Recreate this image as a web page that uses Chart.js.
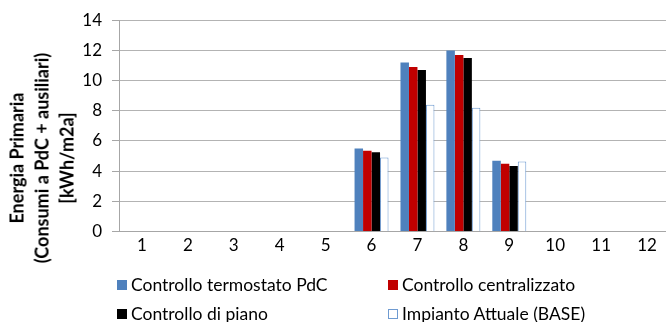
<!DOCTYPE html>
<html>
<head>
<meta charset="utf-8">
<script src="https://cdn.jsdelivr.net/npm/chart.js@4"></script>
<style>
  html, body { margin: 0; padding: 0; background: #fff; overflow: hidden; }
  #wrap { position: relative; width: 666px; height: 322px; overflow: hidden; }
  #box { position: absolute; left: 0; top: 0; width: 672px; height: 322px; }
  #legend { position: absolute; left: 117px; top: 274px; width: 560px; font-family: Lato, sans-serif; font-size: 17.5px; color: #000; }
  .item { position: absolute; white-space: nowrap; display: flex; align-items: center; }
  .swatch { width: 10px; height: 10px; margin-right: 4px; box-sizing: border-box; }
  #ytitle { position: absolute; left: 42px; top: 158px; width: 300px; transform: translate(-50%, -50%) rotate(-90deg);
            text-align: center; font-family: Lato, sans-serif; font-weight: bold; font-size: 18px; line-height: 25px; color: #000; }
</style>
</head>
<body>
<div id="wrap">
  <div id="box"><canvas id="myChart"></canvas></div>
  <div id="ytitle"></div>
  <div id="legend"></div>
</div>
<script>
// categories on the x axis
const categories = ['1', '2', '3', '4', '5', '6', '7', '8', '9', '10', '11', '12'];

// series values (kWh/m2a), only 6..9 have data
const termostatoPdC = [null, null, null, null, null, 5.5, 11.2, 12.0, 4.7, null, null, null];
const centralizzato = [null, null, null, null, null, 5.35, 10.9, 11.7, 4.5, null, null, null];
const diPiano = [null, null, null, null, null, 5.25, 10.7, 11.5, 4.35, null, null, null];
const impiantoBase = [null, null, null, null, null, 4.9, 8.4, 8.2, 4.65, null, null, null];

const seriesNames = ['Controllo termostato PdC', 'Controllo centralizzato', 'Controllo di piano', 'Impianto Attuale (BASE)'];
const yTicks = [0, 2, 4, 6, 8, 10, 12, 14];
const yTitle = ['Energia Primaria', '(Consumi a PdC + ausiliari)', '[kWh/m2a]'];

const fills = ['#4F81BD', '#C00000', '#000000', '#FFFFFF'];
const borders = ['#4F81BD', '#C00000', '#000000', '#6F9BD1'];
const seriesData = [termostatoPdC, centralizzato, diPiano, impiantoBase];

const datasets = seriesData.map((d, i) => ({
  label: seriesNames[i],
  data: d,
  backgroundColor: fills[i],
  borderColor: borders[i],
  borderWidth: i === 3 ? 1 : 0,
  categoryPercentage: 0.74,
  barPercentage: 1.0
}));

const canvas = document.getElementById('myChart');
canvas.width = 672;
canvas.height = 322;

new Chart(canvas.getContext('2d'), {
  type: 'bar',
  data: { labels: categories, datasets: datasets },
  options: {
    responsive: false,
    animation: false,
    maintainAspectRatio: false,
    layout: { padding: { top: 12, right: 2, bottom: 62, left: 0 } },
    plugins: { legend: { display: false }, tooltip: { enabled: false } },
    scales: {
      x: {
        grid: { display: false, drawTicks: false },
        border: { color: '#A6A6A6' },
        ticks: { color: '#000', font: { family: 'Lato', size: 17 }, padding: 4, maxRotation: 0 }
      },
      y: {
        min: 0,
        max: 14,
        afterBuildTicks: (s) => { s.ticks = yTicks.map((v) => ({ value: v })); },
        afterFit: (s) => { s.width = 119; },
        grid: { color: '#B3B3B3', tickLength: 7, tickColor: '#A6A6A6' },
        border: { color: '#A6A6A6' },
        ticks: { color: '#000', font: { family: 'Lato', size: 17 }, padding: 10 },
        title: { display: false }
      }
    }
  }
});

// axis title, centred on the whole chart height like the original
document.getElementById('ytitle').innerHTML = yTitle.join('<br>');

// legend in two columns
const legend = document.getElementById('legend');
const pos = [[0, 0], [271, 0], [0, 29], [271, 29]];
seriesNames.forEach((name, i) => {
  const el = document.createElement('div');
  el.className = 'item';
  el.style.left = pos[i][0] + 'px';
  el.style.top = pos[i][1] + 'px';
  const sw = document.createElement('span');
  sw.className = 'swatch';
  sw.style.background = fills[i];
  sw.style.border = '1px solid ' + borders[i];
  el.appendChild(sw);
  el.appendChild(document.createTextNode(name));
  legend.appendChild(el);
});
</script>
</body>
</html>
